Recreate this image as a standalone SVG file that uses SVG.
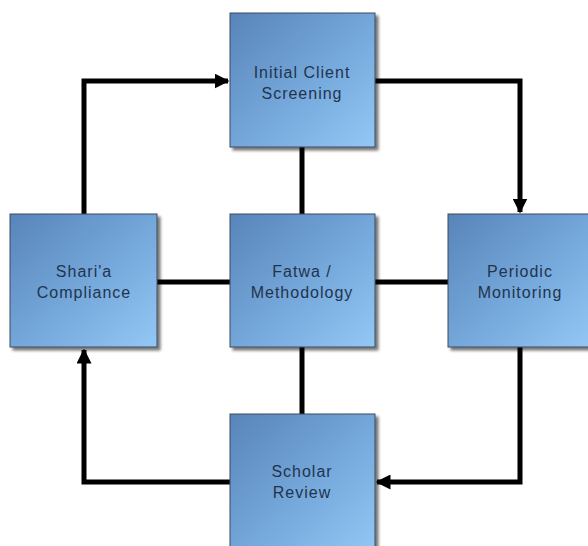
<svg xmlns="http://www.w3.org/2000/svg" width="588" height="546" viewBox="0 0 588 546">
  <defs>
    <linearGradient id="boxFill" x1="0" y1="0" x2="1" y2="1">
      <stop offset="0" stop-color="#5884b9"/>
      <stop offset="0.55" stop-color="#76a9dc"/>
      <stop offset="1" stop-color="#93c8f5"/>
    </linearGradient>
    <filter id="shadow" x="-10%" y="-10%" width="130%" height="130%">
      <feGaussianBlur in="SourceAlpha" stdDeviation="1.5"/>
      <feOffset dx="3" dy="3" result="off"/>
      <feComponentTransfer><feFuncA type="linear" slope="0.55"/></feComponentTransfer>
      <feMerge><feMergeNode/><feMergeNode in="SourceGraphic"/></feMerge>
    </filter>
    <marker id="arrow" viewBox="0 0 10 10" refX="9" refY="5" markerWidth="3" markerHeight="3" orient="auto" markerUnits="strokeWidth">
      <path d="M0,0 L10,5 L0,10 z" fill="#000"/>
    </marker>
  </defs>
  <style>
    .box { fill: url(#boxFill); stroke: #3a4a5c; stroke-width: 1; filter: url(#shadow); }
    .label { font-family: "Liberation Sans", Arial, sans-serif; font-size: 16px; letter-spacing: 1px; fill: #22344d; text-anchor: middle; }
    .link { fill: none; stroke: #000; stroke-width: 5; }
  </style>
  <rect width="588" height="546" fill="#fff"/>

  <g id="connectors">
    <!-- spokes from the hub -->
    <line class="link" x1="302" y1="147" x2="302" y2="214"/>
    <line class="link" x1="302" y1="347" x2="302" y2="414"/>
    <line class="link" x1="157" y1="282" x2="230" y2="282"/>
    <line class="link" x1="375" y1="282" x2="448" y2="282"/>
    <!-- outer cycle -->
    <polyline class="link" points="84,214 84,81 228,81" marker-end="url(#arrow)"/>
    <polyline class="link" points="375,81 520,81 520,212" marker-end="url(#arrow)"/>
    <polyline class="link" points="520,347 520,482 377,482" marker-end="url(#arrow)"/>
    <polyline class="link" points="230,482 84,482 84,350" marker-end="url(#arrow)"/>
  </g>

  <g id="initial-client-screening">
    <rect class="box" x="230" y="13" width="145" height="134"/>
    <text class="label" x="302" y="78">Initial Client</text>
    <text class="label" x="302" y="99">Screening</text>
  </g>

  <g id="sharia-compliance">
    <rect class="box" x="10" y="214" width="147" height="133"/>
    <text class="label" x="84" y="277">Shari'a</text>
    <text class="label" x="84" y="298">Compliance</text>
  </g>

  <g id="fatwa-methodology">
    <rect class="box" x="230" y="214" width="145" height="133"/>
    <text class="label" x="302" y="277">Fatwa /</text>
    <text class="label" x="302" y="298">Methodology</text>
  </g>

  <g id="periodic-monitoring">
    <rect class="box" x="448" y="214" width="144" height="133"/>
    <text class="label" x="520" y="277">Periodic</text>
    <text class="label" x="520" y="298">Monitoring</text>
  </g>

  <g id="scholar-review">
    <rect class="box" x="230" y="414" width="145" height="140"/>
    <text class="label" x="302" y="477">Scholar</text>
    <text class="label" x="302" y="498">Review</text>
  </g>
</svg>
